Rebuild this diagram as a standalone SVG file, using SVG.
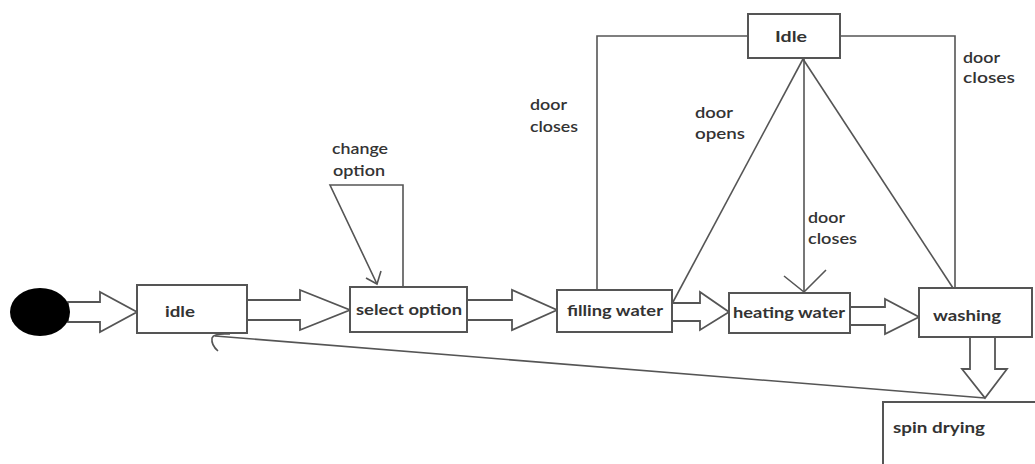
<svg xmlns="http://www.w3.org/2000/svg" width="1035" height="464" viewBox="0 0 1035 464">
  <style>
    .box { fill: #ffffff; stroke: #555555; stroke-width: 2; }
    .line { fill: none; stroke: #555555; stroke-width: 1.6; }
    .block { fill: #ffffff; stroke: #555555; stroke-width: 1.8; stroke-linejoin: miter; }
    .state { font-family: Lato, "Open Sans", sans-serif; font-weight: 700; font-size: 16px; fill: #333333; }
    .label { font-family: Lato, "Open Sans", sans-serif; font-weight: 600; font-size: 15px; fill: #333333; }
  </style>

  <rect width="1035" height="464" fill="#ffffff"/>

  <!-- connectors -->
  <g id="connectors">
    <!-- block arrows along the main flow -->
    <polygon class="block" points="68,302 100,302 100,292 137,312 100,332 100,322 68,322"/>
    <polygon class="block" points="247,300 300,300 300,290 350,310 300,330 300,320 247,320"/>
    <polygon class="block" points="467,300 512,300 512,290 557,310 512,330 512,320 467,320"/>
    <polygon class="block" points="672,303 700,303 700,292 729,312 700,330 700,321 672,321"/>
    <polygon class="block" points="850,307 885,307 885,299 919,317 885,334 885,325 850,325"/>
    <polygon class="block" points="970,337 995,337 995,369 1007,369 985,398 962,369 970,369"/>

    <!-- change option self-loop -->
    <polyline class="line" points="403,287 403,185 330,185 377,284"/>
    <polyline class="line" points="366,278 377,284 381,271"/>

    <!-- Idle (top) to filling water, door closes -->
    <polyline class="line" points="748,36 597,36 597,290"/>
    <!-- Idle (top) to washing, door closes -->
    <polyline class="line" points="840,36 955,36 955,288"/>
    <!-- door opens -->
    <line class="line" x1="803" y1="59" x2="673" y2="302"/>
    <line class="line" x1="803" y1="59" x2="953" y2="288"/>
    <!-- door closes to heating water -->
    <line class="line" x1="804" y1="59" x2="804" y2="292"/>
    <polyline class="line" points="784,276 804,292 826,270"/>

    <!-- spin drying back to idle -->
    <line class="line" x1="985" y1="398" x2="215" y2="336"/>
    <path class="line" d="M230,334 Q214,333 212,338 Q211,345 218,351"/>
  </g>

  <!-- initial state -->
  <g id="start">
    <ellipse cx="40" cy="312" rx="30" ry="24" fill="#000000"/>
  </g>

  <g id="idle">
    <rect class="box" x="137" y="285" width="110" height="48"/>
    <text class="state" x="165" y="317" textLength="30" lengthAdjust="spacingAndGlyphs">idle</text>
  </g>

  <g id="select-option">
    <rect class="box" x="350" y="287" width="117" height="45"/>
    <text class="state" x="356" y="315" textLength="106" lengthAdjust="spacingAndGlyphs">select option</text>
  </g>

  <g id="filling-water">
    <rect class="box" x="557" y="290" width="115" height="42"/>
    <text class="state" x="567" y="316" textLength="96" lengthAdjust="spacingAndGlyphs">filling water</text>
  </g>

  <g id="heating-water">
    <rect class="box" x="729" y="293" width="121" height="40"/>
    <text class="state" x="733" y="318" textLength="112" lengthAdjust="spacingAndGlyphs">heating water</text>
  </g>

  <g id="washing">
    <rect class="box" x="919" y="288" width="113" height="49"/>
    <text class="state" x="933" y="321" textLength="68" lengthAdjust="spacingAndGlyphs">washing</text>
  </g>

  <g id="spin-drying">
    <rect class="box" x="883" y="402" width="160" height="70"/>
    <text class="state" x="893" y="433" textLength="92" lengthAdjust="spacingAndGlyphs">spin drying</text>
  </g>

  <g id="idle-door">
    <rect class="box" x="748" y="14" width="92" height="44"/>
    <text class="state" x="775" y="42" textLength="32" lengthAdjust="spacingAndGlyphs">Idle</text>
  </g>

  <!-- transition labels -->
  <g id="labels">
    <text class="label" x="332" y="154" textLength="56" lengthAdjust="spacingAndGlyphs">change</text>
    <text class="label" x="333" y="176" textLength="52" lengthAdjust="spacingAndGlyphs">option</text>
    <text class="label" x="530" y="110" textLength="37" lengthAdjust="spacingAndGlyphs">door</text>
    <text class="label" x="530" y="132" textLength="48" lengthAdjust="spacingAndGlyphs">closes</text>
    <text class="label" x="695" y="118" textLength="38" lengthAdjust="spacingAndGlyphs">door</text>
    <text class="label" x="695" y="139" textLength="50" lengthAdjust="spacingAndGlyphs">opens</text>
    <text class="label" x="808" y="223" textLength="37" lengthAdjust="spacingAndGlyphs">door</text>
    <text class="label" x="808" y="244" textLength="49" lengthAdjust="spacingAndGlyphs">closes</text>
    <text class="label" x="963" y="63" textLength="37" lengthAdjust="spacingAndGlyphs">door</text>
    <text class="label" x="963" y="83" textLength="52" lengthAdjust="spacingAndGlyphs">closes</text>
  </g>
</svg>
